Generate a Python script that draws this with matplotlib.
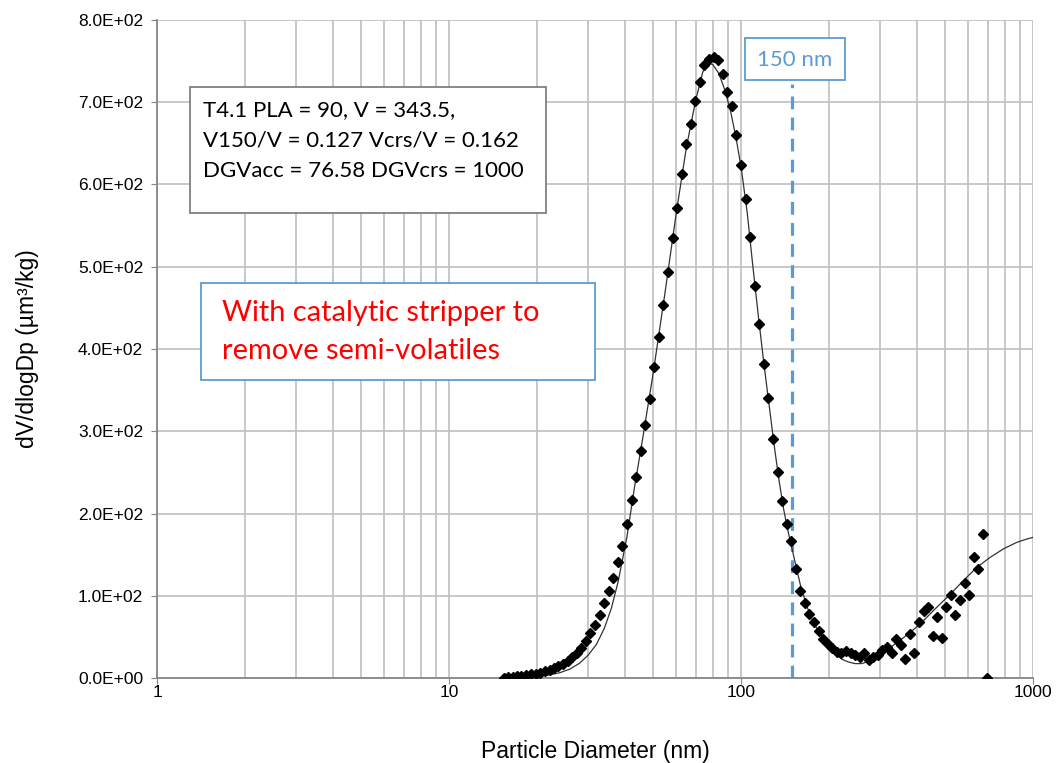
import matplotlib
matplotlib.use("Agg")
import matplotlib.pyplot as plt
from matplotlib.patches import Rectangle
from matplotlib.ticker import FuncFormatter, FixedLocator, LogLocator, NullFormatter

# measured size distribution (SMPS channel midpoints, nm)
diam = [15.4, 15.9, 16.5, 17.1, 17.7, 18.4, 19.1, 19.8, 20.5, 21.3,
        22.1, 22.9, 23.7, 24.6, 25.5, 26.4, 27.4, 28.4, 29.4, 30.5,
        31.6, 32.8, 34.0, 35.2, 36.5, 37.9, 39.2, 40.7, 42.2, 43.7,
        45.3, 47.0, 48.7, 50.5, 52.3, 54.2, 56.2, 58.3, 60.4, 62.6,
        64.9, 67.3, 69.8, 72.3, 74.9, 77.7, 80.6, 83.5, 86.6, 89.8,
        93.1, 96.5, 100.0, 103.7, 107.5, 111.4, 115.5, 119.7, 124.1, 128.6,
        133.7, 138.2, 143.3, 148.6, 154.0, 159.6, 165.5, 171.5, 177.8, 184.3,
        191.1, 198.1, 205.4, 212.9, 220.7, 228.8, 237.2, 245.8, 254.8, 264.2,
        273.8, 283.9, 294.3, 305.1, 316.2, 327.8, 339.8, 352.3, 365.2, 378.6,
        392.4, 406.8, 421.7, 437.1, 453.2, 469.8, 487.0, 504.8, 523.3, 542.5,
        562.3, 583.9, 604.3, 626.4, 649.4, 673.2, 697.8]
dvdlogdp = [0.5, 1, 1.5, 2, 2.7, 3.5, 4.3, 5.3, 6.5, 8,
            9.8, 12, 14.5, 17.5, 21, 25.5, 31, 37, 45, 55,
            65, 77, 91, 106, 122, 141, 160, 187, 216, 244,
            276, 308, 339, 378, 414, 453, 494, 535, 571, 613,
            649, 674, 702, 725, 745, 752, 755, 751, 734, 713,
            695, 660, 624, 582, 536, 476, 430, 382, 340, 291,
            250, 215, 187, 166, 132, 106, 91, 78, 68, 57,
            48, 41, 36, 32, 31, 33, 30, 28, 25, 30,
            22, 25, 28, 34, 38, 31, 47, 40, 23, 53,
            31, 68, 82, 86, 51, 74, 49, 86, 101, 77,
            95, 115, 101, 147, 132, 175, 0]

# bimodal lognormal fit
fit_d = [15, 17, 20, 22, 24, 26, 28, 30, 32, 34, 36, 38, 40.7, 43, 46,
         50, 55, 60, 65, 70, 74, 77, 80, 84, 88, 92, 96, 100, 105, 110,
         115, 120, 125, 130, 135, 140, 145, 152, 160, 169, 178, 188, 199, 210,
         221, 233, 246, 259, 273, 288, 304, 338, 376, 418, 465, 518, 576, 640,
         712, 792, 881, 953, 1000]
fit_v = [0.2, 0.6, 1.8, 3.6, 6.5, 11, 18, 28, 41, 60, 85, 118, 172, 228, 290,
         370, 470, 565, 645, 703, 737, 747, 746, 735, 715, 690, 658, 622, 566, 498,
         436, 380, 330, 282, 240, 205, 178, 146, 112, 85, 66, 52, 40, 30,
         23, 19.5, 17.5, 17.5, 20, 24.8, 29.3, 41.7, 54, 68.4, 85, 101, 118, 134,
         146.5, 157, 165, 169, 171]

cut_size = 150
stats_lines = ["T4.1 PLA = 90, V = 343.5,",
               "V150/V = 0.127 Vcrs/V = 0.162",
               "DGVacc = 76.58 DGVcrs = 1000"]
note_lines = ["With catalytic stripper to",
              "remove semi-volatiles"]

W, H = 1063, 763
fig = plt.figure(figsize=(W / 100, H / 100), dpi=100)
ax = fig.add_axes([157 / W, 1 - 678 / H, (1033 - 157) / W, (678 - 20) / H])

blue = "#5B9BD5"
grid_c = "#BFBFBF"

ax.plot(fit_d, fit_v, color="#333333", lw=0.9, zorder=3)
ax.plot(diam, dvdlogdp, linestyle="none", marker="D", markersize=5.2,
        color="black", zorder=4)
ax.vlines(cut_size, 0, 722, colors=blue, linestyles=(0, (4, 2.6)), lw=2.3, zorder=2)

ax.set_xscale("log")
ax.set_xlim(1, 1000)
ax.set_ylim(0, 800)
ax.xaxis.set_major_locator(FixedLocator([1, 10, 100, 1000]))
ax.xaxis.set_major_formatter(FuncFormatter(lambda v, p: f"{v:g}"))
ax.xaxis.set_minor_locator(LogLocator(base=10, subs=range(2, 10)))
ax.xaxis.set_minor_formatter(NullFormatter())
ax.set_yticks(range(0, 801, 100))
ax.yaxis.set_major_formatter(FuncFormatter(lambda v, p: f"{v:.1E}"))

ax.grid(True, which="both", axis="x", color=grid_c, lw=1.2)
ax.grid(True, which="major", axis="y", color=grid_c, lw=1.2)
ax.set_axisbelow(True)
for s in ["top", "right"]:
    ax.spines[s].set_visible(False)
for s in ["left", "bottom"]:
    ax.spines[s].set_color("#868686")
    ax.spines[s].set_linewidth(1.3)
ax.tick_params(axis="both", which="major", direction="out", length=4,
               color="#868686", labelsize=12.5)
ax.tick_params(axis="y", pad=6)
ax.tick_params(axis="x", pad=1)
ax.tick_params(axis="x", which="minor", length=0)
for lab in ax.get_xticklabels() + ax.get_yticklabels():
    lab.set_family("Liberation Sans")

ax.set_xlabel("Particle Diameter (nm)", fontsize=16.5, family="Liberation Sans", labelpad=29)
ax.set_ylabel("dV/dlogDp (µm³/kg)", fontsize=16.5, family="Liberation Sans", labelpad=28)

def px_box(x0, y0, x1, y1, ec, lw=1.3):
    r = Rectangle((x0 / W, 1 - y1 / H), (x1 - x0) / W, (y1 - y0) / H,
                  transform=fig.transFigure, facecolor="white", edgecolor=ec,
                  lw=lw, zorder=5)
    fig.add_artist(r)

px_box(190, 87, 546, 213, "#808080")
for i, line in enumerate(stats_lines):
    fig.text(203 / W, 1 - (110 + 30.5 * i) / H, line, fontsize=16, family="Lato",
             va="center", ha="left", zorder=6)

px_box(745, 38, 845, 80, blue)
fig.text(795 / W, 1 - 60 / H, f"{cut_size} nm", fontsize=16, family="Lato",
         color=blue, va="center", ha="center", zorder=6)

px_box(201, 283, 595, 380, blue)
for i, line in enumerate(note_lines):
    fig.text(222 / W, 1 - (313 + 38 * i) / H, line, fontsize=20.9, family="Lato",
             color="red", va="center", ha="left", zorder=6)

fig.savefig("out.png", dpi=100)
